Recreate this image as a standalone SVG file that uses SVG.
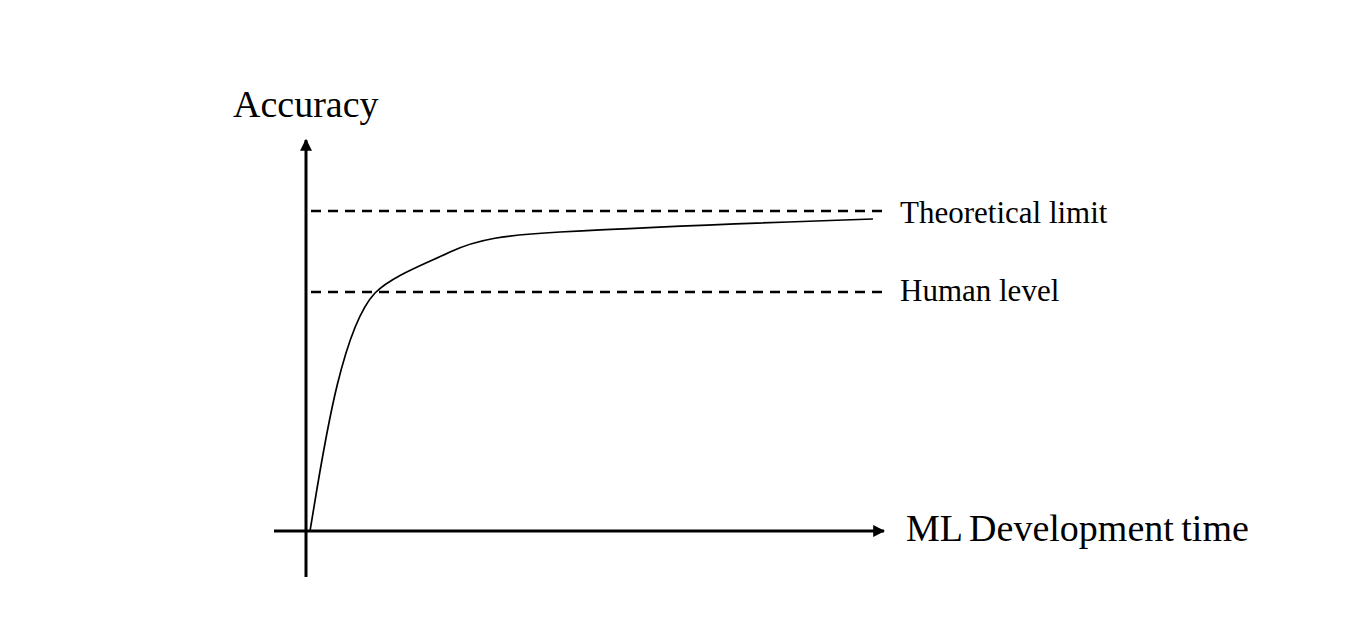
<svg xmlns="http://www.w3.org/2000/svg" width="1345" height="635" viewBox="0 0 1345 635">
<style>
.axis{stroke:#000;stroke-width:3;fill:none}
.dash{stroke:#000;stroke-width:2.5;stroke-dasharray:10 7;fill:none}
.curve{stroke:#000;stroke-width:1.7;fill:none}
.t{font-family:"Liberation Serif","Times New Roman",serif;fill:#000}
</style>
<defs>
<marker id="ah" viewBox="0 0 10 10" refX="9" refY="5" markerWidth="4" markerHeight="4" markerUnits="strokeWidth" orient="auto">
<path d="M0,0 L10,5 L0,10 z" fill="#000"/>
</marker>
</defs>
<rect width="1345" height="635" fill="#fff"/>
<g id="connectors">
<line class="axis" x1="306" y1="577" x2="306" y2="140" marker-end="url(#ah)"/>
<line class="axis" x1="274" y1="531" x2="884" y2="531" marker-end="url(#ah)"/>
<line class="dash" x1="311" y1="211" x2="886" y2="211"/>
<line class="dash" x1="311" y1="292" x2="886" y2="292"/>
<path class="curve" d="M310,531 C322,460 340,330 375,293 C392,276 425,264 450,252 C478,239 505,235 560,232 C650,227 780,222 873,219"/>
</g>
<g id="y-label"><text class="t" x="233" y="117" font-size="38">Accuracy</text></g>
<g id="theoretical-limit"><text class="t" x="900" y="223" font-size="31">Theoretical limit</text></g>
<g id="human-level"><text class="t" x="900" y="301" font-size="31">Human level</text></g>
<g id="x-label"><text class="t" x="906" y="541" font-size="38" word-spacing="-2">ML Development time</text></g>
</svg>
